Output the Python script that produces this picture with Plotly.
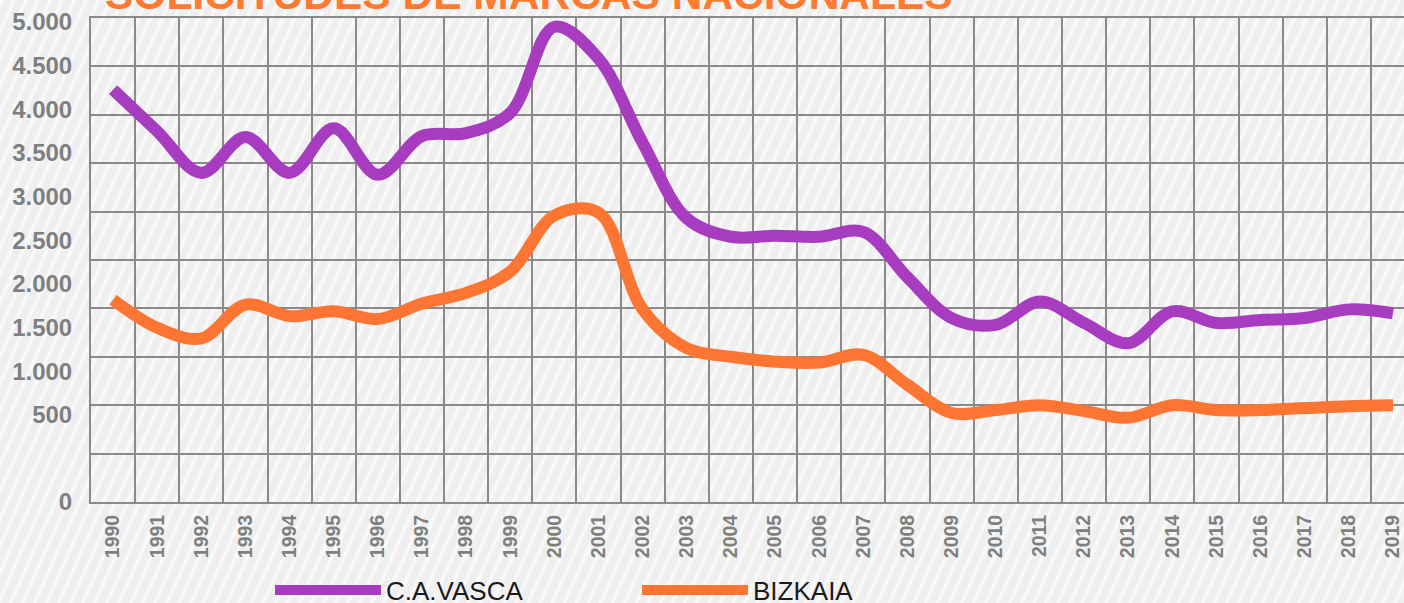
import base64
import plotly.graph_objects as go

# Yearly applications for national trademarks
years = ["1990", "1991", "1992", "1993", "1994", "1995", "1996", "1997", "1998", "1999",
         "2000", "2001", "2002", "2003", "2004", "2005", "2006", "2007", "2008", "2009",
         "2010", "2011", "2012", "2013", "2014", "2015", "2016", "2017", "2018", "2019"]
ca_vasca = [4260, 3830, 3400, 3770, 3400, 3860, 3380, 3780, 3810, 4020,
            4910, 4580, 3710, 2930, 2740, 2750, 2740, 2790, 2320, 1900,
            1830, 2070, 1850, 1640, 1970, 1850, 1880, 1900, 1990, 1950]
bizkaia = [2090, 1800, 1690, 2040, 1920, 1970, 1890, 2050, 2160, 2380,
           2960, 2990, 1990, 1590, 1500, 1450, 1440, 1520, 1210, 920,
           950, 1000, 940, 870, 1000, 950, 950, 970, 990, 1000]
y_tick_values = [0, 500, 1000, 1500, 2000, 2500, 3000, 3500, 4000, 4500, 5000]
y_tick_text = ["0", "500", "1.000", "1.500", "2.000", "2.500", "3.000",
               "3.500", "4.000", "4.500", "5.000"]

W, H = 1404, 603
ML, MR, MT, MB = 91, 0, 18, 101
PW, PH = W - ML - MR, H - MT - MB

PURPLE = "#a83cc0"
ORANGE = "#fd7532"
GRID = "#8a8a8a"
LABEL = "#7f7f7f"
FONT = "Liberation Sans, Arial, sans-serif"


def label_pos(v):
    # value labels are set a bit tighter than the grid, "0" stays on the baseline
    if v == 0:
        return 0
    return 4958 - (5000 - v) * 0.902


def px_x(p):
    return (p - ML) / PW


def px_y(p):
    return (H - MB - p) / PH


# diagonal hatch background
svg = (
    f"<svg xmlns='http://www.w3.org/2000/svg' width='{W}' height='{H}' "
    f"viewBox='0 0 {W} {H}' preserveAspectRatio='none'>"
    "<defs><pattern id='p' width='11' height='11' patternUnits='userSpaceOnUse' "
    "patternTransform='rotate(24)'>"
    "<rect width='11' height='11' fill='#efefef'/>"
    "<rect width='3.6' height='11' fill='#f9f9f9'/></pattern></defs>"
    f"<rect width='{W}' height='{H}' fill='url(#p)'/></svg>"
)
bg_src = "data:image/svg+xml;base64," + base64.b64encode(svg.encode()).decode()

fig = go.Figure()
fig.add_trace(go.Scatter(
    x=years, y=ca_vasca, name="C.A.VASCA", mode="lines",
    line=dict(color=PURPLE, width=12, shape="spline", smoothing=1.0),
))
fig.add_trace(go.Scatter(
    x=years, y=bizkaia, name="BIZKAIA", mode="lines",
    line=dict(color=ORANGE, width=12, shape="spline", smoothing=1.0),
))

fig.update_layout(
    width=W, height=H,
    margin=dict(l=ML, r=MR, t=MT, b=MB, pad=0, autoexpand=False),
    paper_bgcolor="#efefef",
    plot_bgcolor="rgba(0,0,0,0)",
    font=dict(family=FONT),
    images=[dict(
        source=bg_src, xref="paper", yref="paper",
        x=px_x(0), y=px_y(0), sizex=W / PW, sizey=H / PH,
        xanchor="left", yanchor="top", sizing="stretch", layer="below",
    )],
    xaxis=dict(
        type="category", range=[-0.5, 29.25], automargin=False,
        tickson="boundaries", showgrid=True, gridcolor=GRID, gridwidth=2,
        showline=True, linecolor=GRID, linewidth=2, mirror=True,
        ticks="", tickangle=-90, ticklabelstandoff=3,
        tickfont=dict(family=FONT, size=19.5, color=LABEL, weight="bold"),
        fixedrange=True,
    ),
    yaxis=dict(
        range=[0, 5000], zeroline=False, automargin=False,
        tickmode="array",
        tickvals=[label_pos(v) for v in y_tick_values],
        ticktext=y_tick_text,
        showgrid=False,
        minor=dict(tickmode="linear", tick0=0, dtick=500, showgrid=True,
                   gridcolor=GRID, gridwidth=2, ticks=""),
        showline=True, linecolor=GRID, linewidth=2,
        ticks="", ticklabelstandoff=12,
        tickfont=dict(family=FONT, size=24, color=LABEL, weight="bold"),
        fixedrange=True,
    ),
    legend=dict(
        orientation="h", x=px_x(270), y=px_y(590),
        xanchor="left", yanchor="middle",
        itemwidth=106, entrywidth=246, entrywidthmode="pixels",
        font=dict(family=FONT, size=26, color="#1a1a1a"),
        bgcolor="rgba(0,0,0,0)",
    ),
    annotations=[dict(
        text="SOLICITUDES DE MARCAS NACIONALES",
        xref="paper", yref="paper", x=px_x(103), y=px_y(20),
        xanchor="left", yanchor="bottom", showarrow=False,
        font=dict(family=FONT, size=42.5, color="#fd7a30", weight="bold"),
    )],
)

fig.write_html("out.html")
